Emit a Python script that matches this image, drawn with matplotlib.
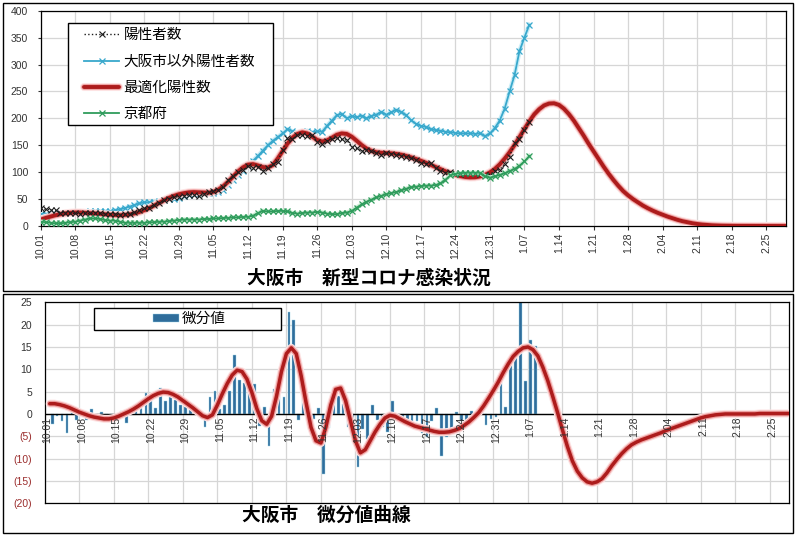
import matplotlib
matplotlib.use('Agg')
import matplotlib.pyplot as plt
import matplotlib.patheffects as pe
from matplotlib.patches import Rectangle
import numpy as np

plt.rcParams['font.family'] = ['Liberation Sans', 'Noto Sans CJK JP']

############################################
## Data (one value per day from 10.01)
############################################

date_labels = ['10.01', '10.08', '10.15', '10.22', '10.29', '11.05', '11.12', '11.19',
               '11.26', '12.03', '12.10', '12.17', '12.24', '12.31', '1.07', '1.14',
               '1.21', '1.28', '2.04', '2.11', '2.18', '2.25']

# 陽性者数 (Osaka city, days 0..99)
osaka_cases = [33, 30.8, 30.4, 28.9, 24.6, 25, 23.7, 23.5, 22.2, 23.3,
               23.3, 23.8, 23.4, 22.7, 22.3, 23, 20.9, 21.4, 22.9, 25.1,
               29.8, 32.6, 33.9, 39.7, 42.7, 47.9, 51, 53.1, 54.7, 56.3,
               57.9, 57.9, 54.9, 58.8, 64, 65.1, 67, 72.2, 85.3, 92.8,
               99.7, 104.3, 111, 108.4, 109.9, 102.8, 108.4, 115.1, 119, 141.8,
               162.8, 161.5, 168.8, 168.8, 167.7, 169, 155.6, 152.4, 157.6, 161.7,
               163.9, 160.9, 159.6, 147.7, 144.3, 138.7, 140.6, 139.3, 136.3, 132.2,
               135.2, 133.9, 132.8, 130.9, 128.3, 126.8, 122.5, 117.3, 115.8, 117.1,
               107.8, 102.6, 99.2, 99.7, 98.2, 96.9, 97.6, 97.6, 98.9, 96.5,
               95.4, 94.8, 102.8, 104.4, 115.4, 129, 154, 161.3, 177.9, 193.2]

# 大阪市以外陽性者数 (days 0..99)
others_cases = [22, 22, 23, 23, 24, 24, 25, 25, 26, 26,
                27, 27, 27, 27, 27, 29, 31, 33, 36, 39,
                42, 44, 44, 45, 46, 48, 50, 51, 52, 55,
                58, 60, 61, 62, 62, 61, 63, 67, 76, 85,
                94, 103, 112, 121, 130, 140, 150, 158, 165, 172,
                180, 176, 172, 175, 177, 174, 176, 175, 186, 196,
                206, 208, 200, 204, 202, 205, 200, 204, 207, 212,
                207, 211, 216, 212, 206, 197, 190, 186, 184, 180,
                178, 177, 175, 174, 173, 172, 172, 172, 171, 172,
                167, 172, 182, 196, 218, 250, 280, 325, 350, 374]

# 最適化陽性数 (days 0..151)
opt_cases = [12, 15, 17.5, 20, 22, 23.5, 24.5, 25, 25, 24.5,
             24, 23.3, 22.5, 21.8, 21, 20.5, 20, 20.5, 21.6, 23.4,
             26, 29.4, 33.5, 38, 43, 48, 52.3, 56, 59, 61,
             62.5, 63, 62.6, 62, 61.8, 63.5, 67.5, 74, 82.5, 92,
             101.5, 109, 114, 115, 112.5, 109.5, 108.5, 113, 125, 139,
             153, 164, 171, 174, 172, 166, 160, 157, 159, 164,
             169.5, 172, 171, 166, 158.5, 150.5, 144, 139.5, 137, 136,
             135.5, 135, 134, 132.5, 130.3, 127.6, 124.6, 121.3, 117.7, 113.8,
             109.7, 105.6, 101.6, 98, 95, 92.7, 91, 90.3, 90.5, 92,
             95, 99.5, 106, 114.5, 125, 137, 150.5, 165, 180, 194.5,
             207.5, 217, 224, 227.5, 228, 225, 218, 208, 196, 182,
             168, 153, 139, 125, 111, 98, 86, 75, 65, 57,
             50, 44, 38, 33, 28.5, 24.5, 21, 17.5, 14.5, 11.5,
             9, 7, 5.2, 3.8, 2.7, 1.9, 1.3, 0.9, 0.6, 0.4,
             0.3, 0.2, 0.2, 0.1, 0.1, 0.1, 0.1, 0, 0, 0, 0, 0]

# 京都府 (days 0..99)
kyoto_cases = [8, 7, 6, 5, 5, 6, 7, 8, 10, 12,
               14, 14, 13, 11, 10, 10, 8, 6, 6, 6,
               6, 6, 7, 7, 8, 8, 9, 10, 11, 12,
               12, 12, 12, 13, 13, 14, 14, 15, 15, 16,
               16, 17, 17, 19, 24, 28, 27, 27, 28, 28,
               27, 24, 23, 24, 25, 25, 26, 25, 23, 22,
               22, 24, 25, 28, 34, 40, 45, 49, 53, 56,
               59, 61, 63, 66, 69, 72, 73, 74, 75, 75,
               76, 79, 86, 94, 97, 98, 99, 99, 99, 99,
               92, 90, 92, 95, 98, 102, 106, 112, 120, 130]

# 微分値 bars (days 1..99)
deriv_bars = [-2.2, -0.4, -1.5, -4.3, 0.4, -1.3, -0.2, -1.3, 1.1, 0,
              0.5, -0.4, -0.7, -0.4, 0.7, -2.1, 0.5, 1.5, 2.2, 4.7,
              2.8, 1.3, 5.8, 3.0, 5.2, 3.1, 2.1, 1.6, 1.6, 1.6,
              0, -3.0, 3.9, 5.2, 1.1, 1.9, 5.2, 13.1, 7.5, 6.9,
              4.6, 6.7, -2.6, 1.5, -7.1, 5.6, 6.7, 3.9, 22.8, 21.0,
              -1.3, 7.3, 0, -1.1, 1.3, -13.4, -3.2, 5.2, 4.1, 2.2,
              -3.0, -1.3, -11.9, -3.4, -5.6, 1.9, -1.3, -3.0, -4.1, 3.0,
              -1.3, -1.1, -1.9, -2.6, -1.5, -4.3, -5.2, -1.5, 1.3, -9.3,
              -5.2, -3.4, 0.5, -1.5, -1.3, 0.7, 0, 1.3, -2.4, -1.1,
              -0.6, 8.0, 1.6, 11.0, 13.5, 26, 7.3, 16.6, 15.3]

# 微分値曲線 (days 1..151)
deriv_curve = [2.3, 2.3, 2.1, 1.8, 1.4, 0.9, 0.4, 0.0, -0.4, -0.7,
               -0.9, -1.1, -1.1, -0.9, -0.5, 0.0, 0.5, 1.1, 1.8, 2.6,
               3.4, 4.1, 4.6, 4.9, 4.8, 4.4, 3.8, 3.0, 2.2, 1.4,
               0.5, -0.4, -0.8, -0.2, 2.0, 4.5, 6.8, 8.7, 9.8, 9.5,
               7.8, 4.8, 1.2, -1.5, -2.3, -0.5, 4.0, 9.5, 13.5, 14.8,
               13.5, 8.5, 2.5, -3.0, -6.0, -6.5, -3.0, 2.0, 5.5, 5.8,
               3.0, -1.5, -6.0, -8.7, -8.0, -6.0, -4.0, -2.3, -0.9, -0.3,
               -0.5, -1.1, -1.7, -2.2, -2.7, -3.0, -3.3, -3.6, -3.9, -4.1,
               -4.1, -4.0, -3.7, -3.3, -2.6, -1.8, -0.8, 0.3, 1.8, 3.5,
               5.3, 7.2, 9.3, 11.2, 12.9, 14.0, 14.8, 15.0, 14.4, 13.0,
               10.5, 7.5, 4.0, 0.3, -3.6, -7.3, -10.5, -12.8, -14.3, -15.2,
               -15.5, -15.2, -14.5, -13.2, -11.6, -10.2, -8.9, -7.8, -6.9, -6.3,
               -5.8, -5.4, -5.0, -4.6, -4.2, -3.7, -3.3, -2.9, -2.5, -2.1,
               -1.7, -1.3, -0.9, -0.6, -0.4, -0.2, -0.1, 0.0, 0.0, 0.0,
               0.0, 0.0, 0.0, 0.0, 0.1, 0.1, 0.1, 0.1, 0.1, 0.1, 0.1]

bottom_ytick_labels = ['(20)', '(15)', '(10)', '(5)', '0', '5', '10', '15', '20', '25']

############################################
## Figure and chart frames
############################################

W, H = 796, 535
fig = plt.figure(figsize=(W / 100, H / 100), dpi=100)

def px_rect(x0, y0, x1, y1):
    return [x0 / W, 1 - y1 / H, (x1 - x0) / W, (y1 - y0) / H]

def box(x0, y0, x1, y1, z):
    r = px_rect(x0, y0, x1, y1)
    fig.patches.append(Rectangle((r[0], r[1]), r[2], r[3], transform=fig.transFigure,
                                 fc='white', fill=z > 1, ec='black', lw=1, zorder=z))

box(3, 3, 793, 291, -1)
box(3, 294, 793, 533, -1)

grid_color = '#d6d6d6'
tick_color = '#333333'
red = '#ad1c1c'
red_glow = [pe.Stroke(linewidth=5.8, foreground='#fde3e3'),
            pe.Stroke(linewidth=4.2, foreground='#eea0a0'), pe.Normal()]
week_pos = np.arange(len(date_labels)) * 7

############################################
## Top chart
############################################

ax1 = fig.add_axes(px_rect(40.7, 10.7, 786, 226))
obs_days = np.arange(len(osaka_cases))
opt_days = np.arange(len(opt_cases))

ax1.plot(obs_days, others_cases, color='#c9edf7', lw=3.2, zorder=3)
l_blue, = ax1.plot(obs_days, others_cases, color='#38a8cc', lw=1.3, marker='x', ms=5,
                   mew=0.9, label='大阪市以外陽性者数', zorder=3.5)
l_red, = ax1.plot(opt_days, opt_cases, color=red, lw=2.8, label='最適化陽性数', zorder=4,
                  solid_capstyle='round', path_effects=red_glow)
l_black, = ax1.plot(obs_days, osaka_cases, color='#1c1c1c', ls=':', lw=1.0, marker='x',
                    ms=4.5, mew=0.8, label='陽性者数', zorder=5)
ax1.plot(obs_days, kyoto_cases, color='#cdeed6', lw=3.2, zorder=5.5)
l_green, = ax1.plot(obs_days, kyoto_cases, color='#2f9c5c', lw=1.3, marker='x', ms=4.5,
                    mew=0.9, label='京都府', zorder=6)

ax1.set_xlim(0, 151)
ax1.set_ylim(0, 400)
ax1.set_yticks(np.arange(0, 401, 50))
ax1.set_xticks(week_pos, date_labels, rotation=90)
ax1.tick_params(axis='x', length=3, pad=2, labelsize=7.5, colors=tick_color)
ax1.tick_params(axis='y', length=2, pad=7, labelsize=7.5, colors=tick_color)
ax1.grid(True, color=grid_color, lw=0.9)
ax1.set_axisbelow(True)
for s in ax1.spines.values():
    s.set_color('black')
    s.set_linewidth(0.9)

box(67.7, 22.7, 273, 125, 4)
fig.legend(handles=[l_black, l_blue, l_red, l_green], loc='upper left',
           bbox_to_anchor=(84 / W, 1 - 28.5 / H), frameon=False, fontsize=10.5,
           handlelength=2.4, handletextpad=0.3, labelspacing=0.84,
           borderaxespad=0, borderpad=0, numpoints=1)

fig.text(368.5 / W, 1 - 278 / H, '大阪市\u3000新型コロナ感染状況', ha='center', va='center',
         fontsize=13.5, fontweight='bold', family=['Noto Sans CJK JP'])

############################################
## Bottom chart
############################################

ax2 = fig.add_axes(px_rect(44.8, 302.3, 789.3, 503.3))
bar_days = np.arange(1, len(deriv_bars) + 1)
curve_days = np.arange(1, len(deriv_curve) + 1)

bars = ax2.bar(bar_days + 0.5, deriv_bars, width=0.55, color='#2f6d9b', ec='#9ad6ea',
               lw=0.3, label='微分値', zorder=2)
ax2.axhline(0, color='black', lw=1.0, zorder=3)
ax2.plot(curve_days, deriv_curve, color=red, lw=2.5, zorder=4, solid_capstyle='round',
         path_effects=red_glow)

ax2.set_xlim(0, 151)
ax2.set_ylim(-20, 25)
ax2.set_yticks(np.arange(-20, 26, 5), bottom_ytick_labels)
for lab in ax2.get_yticklabels():
    lab.set_color('#9b2d2d' if lab.get_text().startswith('(') else tick_color)
ax2.set_xticks(week_pos)
ax2.tick_params(axis='x', length=0, labelbottom=False)
ax2.tick_params(axis='y', length=0, pad=9, labelsize=7.5)
ax2.grid(True, color=grid_color, lw=0.9)
ax2.set_axisbelow(True)
for s in ax2.spines.values():
    s.set_color('black')
    s.set_linewidth(0.9)

secax = ax2.secondary_xaxis(20 / 45)
secax.set_xticks(week_pos + 0.5, date_labels, rotation=90)
secax.tick_params(length=0, pad=2, labelsize=7.5, colors=tick_color)
secax.spines['bottom'].set_visible(False)
secax.set_zorder(5)

box(94, 308, 281, 330, 4)
fig.legend(handles=[bars], loc='center left', bbox_to_anchor=(153 / W, 1 - 319 / H),
           frameon=False, fontsize=10.5, handlelength=1.8, handleheight=0.5,
           handletextpad=0.2, borderaxespad=0, borderpad=0)

fig.text(326 / W, 1 - 515 / H, '大阪市\u3000微分値曲線', ha='center', va='center',
         fontsize=13.5, fontweight='bold', family=['Noto Sans CJK JP'])

fig.savefig('out.png', dpi=100)
